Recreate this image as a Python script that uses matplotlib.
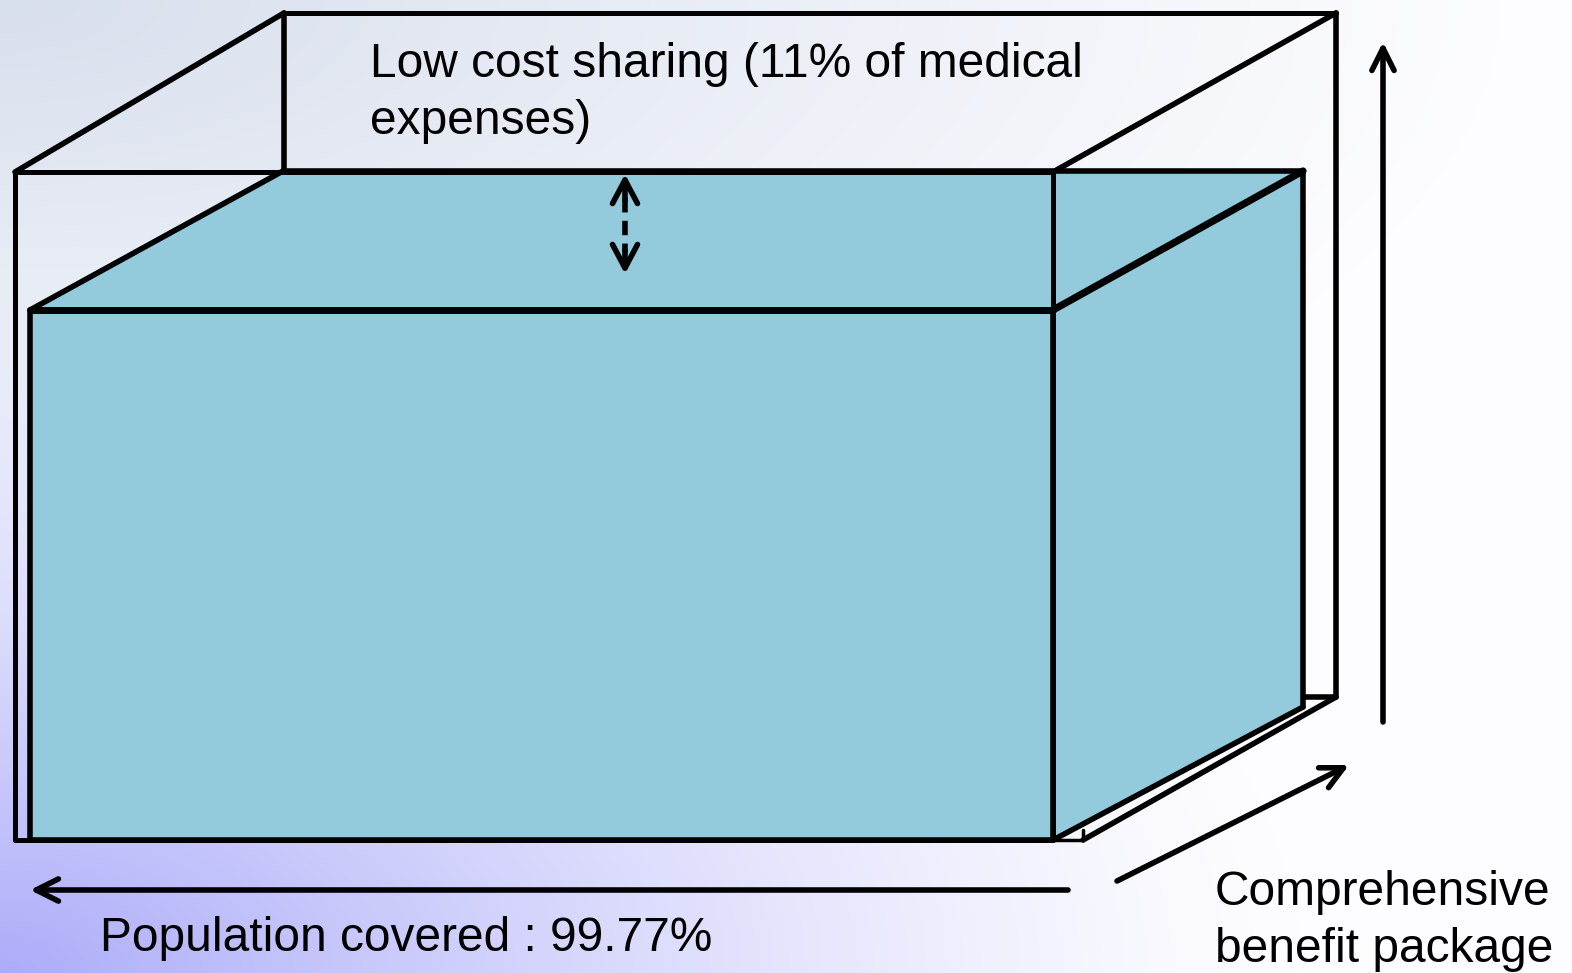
import numpy as np
import matplotlib.pyplot as plt

plt.rcParams['font.family'] = ['Liberation Sans', 'DejaVu Sans']

# labels
top_lines = ['Low cost sharing (11% of medical', 'expenses)']
pop_label = 'Population covered : 99.77%'
benefit_lines = ['Comprehensive', 'benefit package']

# box geometry (pixels): front and back faces as [left, top, right, bottom]
outer_front = [15, 172, 1053, 840]
outer_back = [284, 13, 1336, 697]
outer_floor = [1083, 840]   # sketchy floor corner at lower right
inner_front = [30, 310, 1053, 840]
inner_back = [283, 171, 1303, 707]

fill = '#93cbdc'
W, H = 1572, 973

fig = plt.figure(figsize=(15.72, 9.73), dpi=100)
ax = fig.add_axes([0, 0, 1, 1])
ax.set_xlim(0, W)
ax.set_ylim(H, 0)
ax.axis('off')

# background gradient
yy, xx = np.mgrid[0:H, 0:W]
white = np.array([253, 253, 255]) / 255
grey = np.array([216, 223, 237]) / 255
purple = np.array([172, 172, 250]) / 255
r1 = np.sqrt((xx / 1500.0) ** 2 + (yy / 620.0) ** 2)
t1 = np.clip(1 - r1, 0, 1)[..., None]
img = white * (1 - t1) + grey * t1
r2 = np.sqrt((xx / 1300.0) ** 2 + ((H - yy) / 700.0) ** 2)
t2 = np.clip(1 - r2, 0, 1)[..., None] ** 1.3
img = img * (1 - t2) + purple * t2
ax.imshow(img, extent=(0, W, H, 0), aspect='auto', zorder=0)


def corners(front, back):
    l, t, r, b = front
    L, T, R, B = back
    return {
        'ftl': (l, t), 'ftr': (r, t), 'fbr': (r, b), 'fbl': (l, b),
        'btl': (L, T), 'btr': (R, T), 'bbr': (R, B), 'bbl': (L, B),
    }


def seg(p, q, lw=4, z=2):
    ax.plot([p[0], q[0]], [p[1], q[1]], color='black', lw=lw,
            solid_capstyle='round', zorder=z)


o = corners(outer_front, outer_back)
c = corners(inner_front, inner_back)

# outer box, back edges
seg(o['btl'], o['btr'], lw=3.6)
seg(o['btl'], o['bbl'])
seg(o['btr'], o['bbr'])
seg(o['bbl'], o['bbr'])
seg(o['ftl'], o['btl'])
seg(o['ftr'], o['btr'])
seg(outer_floor, o['bbr'])
seg((outer_floor[0], outer_floor[1] - 10), outer_floor, lw=2.5)
seg(o['fbr'], outer_floor, lw=2.5)

# inner (filled) box
faces = [
    [c['ftl'], c['ftr'], c['fbr'], c['fbl']],
    [c['ftl'], c['btl'], c['btr'], c['ftr']],
    [c['ftr'], c['btr'], c['bbr'], c['fbr']],
]
for f in faces:
    ax.fill([p[0] for p in f], [p[1] for p in f], color=fill, zorder=3,
            lw=0)
for p, q, lw in [(c['ftl'], c['ftr'], 5), (c['ftr'], c['fbr'], 4),
                 (c['fbr'], c['fbl'], 4), (c['fbl'], c['ftl'], 4),
                 (c['ftl'], c['btl'], 4), (c['btl'], c['btr'], 4),
                 (c['ftr'], c['btr'], 5.2), (c['btr'], c['bbr'], 4),
                 (c['bbr'], c['fbr'], 4)]:
    seg(p, q, lw=lw, z=4)

# outer box, front face
for p, q in [(o['ftl'], o['ftr']), (o['ftr'], o['fbr']),
             (o['fbr'], o['fbl']), (o['fbl'], o['ftl'])]:
    seg(p, q, lw=3.6, z=5)

# dashed double arrow (cost sharing gap)
ax.plot([625, 625], [198, 252], color='black', lw=4, ls=(0, (2.6, 1.5)),
        zorder=6)
head = dict(arrowstyle='->,head_length=0.85,head_width=0.45', color='black',
            lw=4, mutation_scale=20, shrinkA=0, shrinkB=0)
ax.annotate('', xy=(625, 174), xytext=(625, 200), arrowprops=head, zorder=6)
ax.annotate('', xy=(625, 274), xytext=(625, 250), arrowprops=head, zorder=6)

# axis arrows
arr = dict(arrowstyle='->,head_length=0.8,head_width=0.4', color='black',
           lw=4, mutation_scale=20, shrinkA=0, shrinkB=0)
ax.annotate('', xy=(30, 890), xytext=(1068, 890), arrowprops=arr)
ax.annotate('', xy=(1383, 42), xytext=(1383, 722), arrowprops=arr)
ax.annotate('', xy=(1349, 765), xytext=(1117, 881), arrowprops=arr)

# text
fs = 34.5
for i, line in enumerate(top_lines):
    ax.text(370, 77 + i * 57, line, fontsize=fs, va='baseline', ha='left',
            zorder=7)
ax.text(100, 951, pop_label, fontsize=fs, va='baseline', ha='left')
for i, line in enumerate(benefit_lines):
    ax.text(1215, 905 + i * 57, line, fontsize=fs, va='baseline', ha='left')

fig.savefig('out.png', dpi=100)
